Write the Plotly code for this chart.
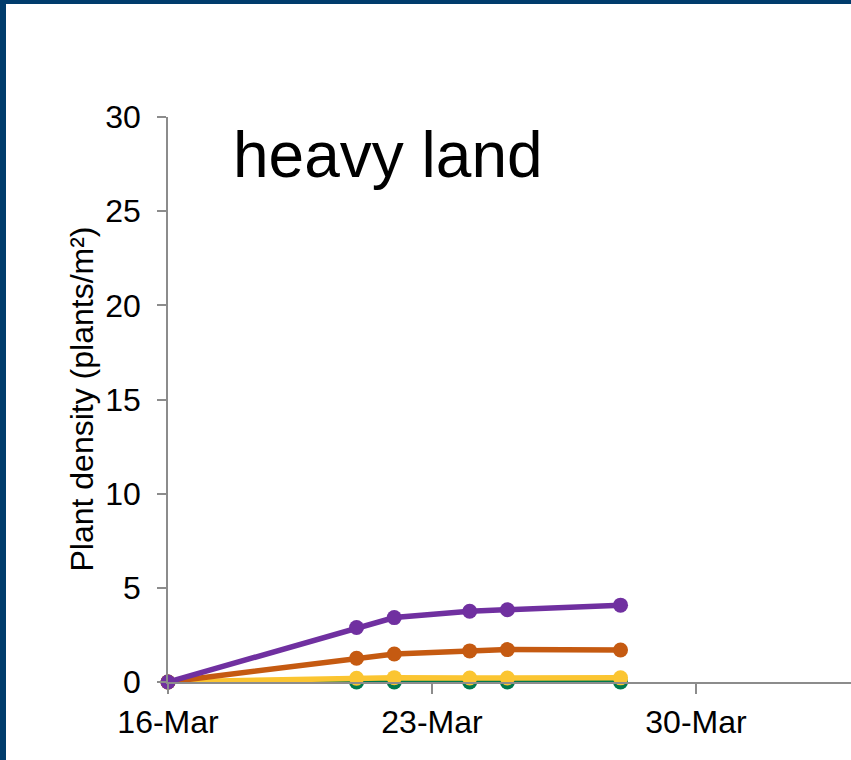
import plotly.graph_objects as go

dates = ['2021-03-16', '2021-03-21', '2021-03-22', '2021-03-24', '2021-03-25', '2021-03-28']
green = [0, 0, 0, 0, 0, 0]
yellow = [0, 0.20, 0.23, 0.21, 0.21, 0.22]
orange = [0, 1.26, 1.49, 1.65, 1.72, 1.70]
purple = [0, 2.89, 3.42, 3.76, 3.84, 4.08]

y_ticks = [0, 5, 10, 15, 20, 25, 30]

series = [
    ('green', green, '#007A4D'),
    ('yellow', yellow, '#FBC531'),
    ('orange', orange, '#C55A11'),
    ('purple', purple, '#7030A0'),
]

fig = go.Figure()
for name, vals, col in series:
    fig.add_trace(go.Scatter(
        x=dates, y=vals, mode='lines+markers', name=name,
        line=dict(color=col, width=5.5),
        marker=dict(color=col, size=15),
        cliponaxis=False, showlegend=False,
    ))

W, H = 851, 760
L, R, T, B = 168, 0, 117, 78
pw, ph = W - L - R, H - T - B

def px_x(p):
    return (p - L) / pw

def px_y(p):
    return (H - B - p) / ph

frame = '#003C6C'
fig.add_shape(type='rect', xref='paper', yref='paper',
              x0=px_x(0), x1=px_x(6), y0=px_y(H), y1=px_y(0),
              fillcolor=frame, line=dict(width=0), layer='above')
fig.add_shape(type='rect', xref='paper', yref='paper',
              x0=px_x(0), x1=1.0, y0=px_y(4), y1=px_y(0),
              fillcolor=frame, line=dict(width=0), layer='above')

FONT = 'Liberation Sans, Arial'
fig.add_annotation(text='heavy land', xref='paper', yref='paper',
                   x=px_x(231), y=px_y(155), xanchor='left', yanchor='middle',
                   showarrow=False, font=dict(size=64, color='black', family=FONT))
fig.add_annotation(text='Plant density (plants/m²)', xref='paper', yref='paper',
                   x=px_x(81), y=0.5, xanchor='center', yanchor='middle',
                   textangle=-90, showarrow=False,
                   font=dict(size=32, color='black', family=FONT))

axis_col = '#8C8C8C'
fig.update_layout(
    width=W, height=H,
    margin=dict(l=L, r=R, t=T, b=B, pad=0),
    paper_bgcolor='white', plot_bgcolor='white',
    font=dict(family=FONT, size=32, color='black'),
    xaxis=dict(
        type='date', range=['2021-03-16', '2021-04-03 02:40'],
        tick0='2021-03-16', dtick=7 * 24 * 3600 * 1000, tickformat='%-d-%b',
        showgrid=False, zeroline=False, showline=True, linecolor=axis_col, linewidth=1.5,
        ticks='outside', ticklen=10, tickcolor=axis_col, tickwidth=1.5,
        tickfont=dict(size=32, color='black'), ticklabelstandoff=1,
    ),
    yaxis=dict(
        range=[0, 30], tickvals=y_ticks,
        showgrid=False, zeroline=False, showline=True, linecolor=axis_col, linewidth=1.5,
        ticks='outside', ticklen=9, tickcolor=axis_col, tickwidth=1.5,
        tickfont=dict(size=32, color='black'), ticklabelstandoff=10,
    ),
)

fig.write_html('out.html',
               config={'displayModeBar': False},
               post_script="document.body.style.margin='0';document.body.style.padding='0';"
                           "document.body.style.overflow='hidden';"
                           "document.documentElement.style.overflow='hidden';")
